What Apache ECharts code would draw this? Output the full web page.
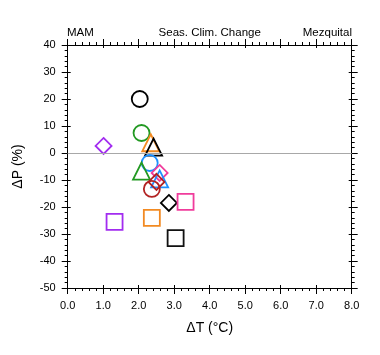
<!DOCTYPE html>
<html><head><meta charset="utf-8">
<script src="https://cdn.jsdelivr.net/npm/echarts@6/dist/echarts.min.js"></script>
<style>html,body{margin:0;padding:0;background:#fff}#c{width:380px;height:355px}</style>
</head><body><div id="c"></div>
<script>
// Data
var dT = [2.03, 2.08, 2.34, 2.42, 2.31, 2.08, 2.59, 2.59, 2.50, 2.37, 2.85, 3.32, 2.37, 3.04, 1.01, 1.32];
var dP = [20.0, 7.4, 3.8, 2.2, -3.7, -6.7, -7.4, -9.6, -10.7, -13.3, -18.5, -18.1, -24.0, -31.5, 2.6, -25.5];
var xTicks = ['0.0','1.0','2.0','3.0','4.0','5.0','6.0','7.0','8.0'];
var yTicks = [-50,-40,-30,-20,-10,0,10,20,30,40];
// styles
var symbols = ['circle','circle','triangle','triangle','circle','triangle','diamond','triangle','diamond','circle','diamond','rect','rect','rect','diamond','rect'];
var colors = ['#000000','#229922','#f28a22','#000000','#1e90ff','#229922','#f03c9c','#1e90ff','#b22222','#b22222','#000000','#f03c9c','#f28a22','#111111','#a22cf0','#a22cf0'];
var sizes = {circle:16, triangle:17, diamond:16, rect:16};

var font = 'Liberation Sans, Arial, Helvetica, sans-serif';
var chart = echarts.init(document.getElementById('c'));
var grid = {left:67.7, right:28.3, top:45, bottom:67};

function xa(pos, show, inside){
  return {type:'value', min:0, max:8, interval:1, position:pos, gridIndex:0,
    axisLine:{show:true, onZero:false, lineStyle:{color:'#000', width:1}},
    axisTick:{show:true, inside:inside, length: inside?3:6, lineStyle:{color:'#000', width:1}},
    minorTick:{show:!inside, splitNumber:5, length:3, lineStyle:{color:'#000', width:1}},
    axisLabel:{show:show, margin:12, color:'#000', fontSize:11, fontFamily:font, formatter:function(v){return xTicks[Math.round(v)];}},
    splitLine:{show:false},
    name: show?'ΔT (°C)':'', nameLocation:'middle', nameGap:33,
    nameTextStyle:{color:'#000', fontSize:14, fontFamily:font}};
}
function ya(pos, show, inside){
  return {type:'value', min:-50, max:40, interval:10, position:pos, gridIndex:0,
    axisLine:{show:true, onZero:false, lineStyle:{color:'#000', width:1}},
    axisTick:{show:true, inside:inside, length: inside?3:6, lineStyle:{color:'#000', width:1}},
    minorTick:{show:!inside, splitNumber:5, length:3, lineStyle:{color:'#000', width:1}},
    axisLabel:{show:show, margin:12, color:'#000', fontSize:11, fontFamily:font, formatter:function(v){return yTicks.indexOf(v)>=0?String(v):'';}},
    splitLine:{show:false},
    name: show?'ΔP (%)':'', nameLocation:'middle', nameGap:43,
    nameTextStyle:{color:'#000', fontSize:14, fontFamily:font}};
}

var series = [];
for (var i=0;i<dT.length;i++){
  series.push({type:'scatter', xAxisIndex:0, yAxisIndex:0, symbol:symbols[i], symbolSize:sizes[symbols[i]],
    data:[[dT[i], dP[i]]], z:3,
    itemStyle:{color:'rgba(0,0,0,0)', borderColor:colors[i], borderWidth:1.8, opacity:1},
    emphasis:{disabled:true}, animation:false});
}
series.push({type:'line', xAxisIndex:0, yAxisIndex:0, data:[], z:1,
  markLine:{silent:true, symbol:'none', label:{show:false}, animation:false,
    lineStyle:{color:'#a8a8a8', width:1.2, type:'solid', opacity:1}, data:[{yAxis:0}]}});

function txt(s, x, align){
  return {type:'text', x:x, y:33, style:{text:s, fill:'#000', font:'11.5px '+font, textAlign:align, textVerticalAlign:'middle', verticalAlign:'middle', align:align}};
}
chart.setOption({
  animation:false,
  grid:grid,
  graphic:[txt('MAM',67,'left'), txt('Seas. Clim. Change',209.7,'center'), txt('Mezquital',352,'right')],
  xAxis:[xa('bottom',true,false), xa('top',false,false), xa('bottom',false,true), xa('top',false,true)],
  yAxis:[ya('left',true,false), ya('right',false,false), ya('left',false,true), ya('right',false,true)],
  series:series
});
</script></body></html>
